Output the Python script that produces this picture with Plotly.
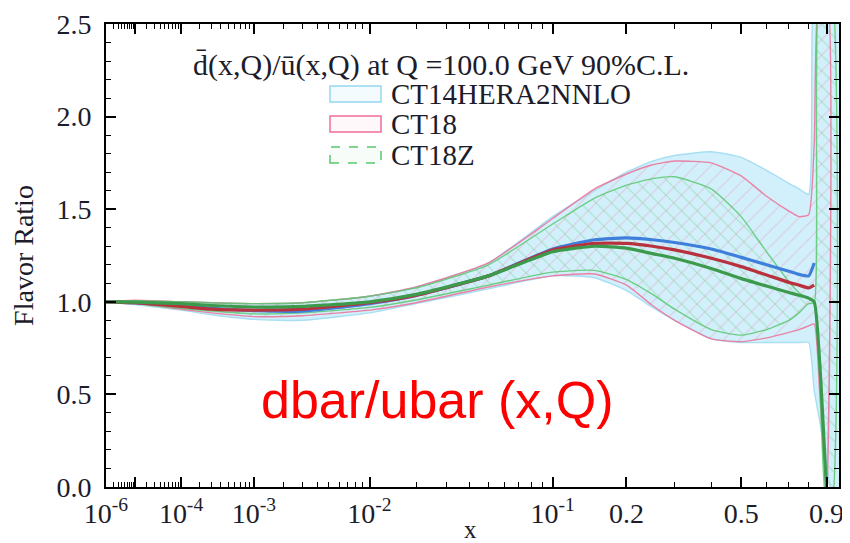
import plotly.graph_objects as go

# ---------------- data ----------------
X = [1e-6, 1e-5, 1e-4, 3e-4, 1e-3, 3e-3, 1e-2, 2e-2, 0.05, 0.1, 0.15, 0.2, 0.25,
     0.3, 0.4, 0.5, 0.6, 0.7, 0.75, 0.8, 0.83, 0.86, 0.9, 0.93, 0.97]

CT14_CENTRAL = [1.0, 0.995, 0.98, 0.965, 0.952, 0.95, 0.99, 1.035, 1.14, 1.285, 1.335, 1.345, 1.335,
                1.32, 1.285, 1.24, 1.2, 1.165, 1.148, 1.14, 1.21, None, None, None, None]
CT14_UPPER = [1.0, 1.005, 1.0, 0.995, 0.99, 0.995, 1.03, 1.08, 1.21, 1.46, 1.6, 1.7, 1.76,
              1.79, 1.81, 1.78, 1.71, 1.64, 1.61, 1.58, 2.7, 2.7, 2.7, 2.7, 2.7]
CT14_LOWER = [1.0, 0.985, 0.955, 0.93, 0.905, 0.9, 0.94, 0.99, 1.07, 1.14, 1.13, 1.06, 0.97,
              0.9, 0.8, 0.78, 0.78, 0.78, 0.78, 0.78, 0.52, 0.36, 0.13, -0.05, -0.1]

CT18_CENTRAL = [1.0, 0.995, 0.975, 0.96, 0.955, 0.96, 0.995, 1.035, 1.14, 1.28, 1.315, 1.315, 1.3,
                1.28, 1.235, 1.19, 1.145, 1.105, 1.09, 1.075, 1.09, None, None, None, None]
CT18_UPPER = [1.0, 1.008, 1.0, 0.995, 0.99, 0.995, 1.03, 1.08, 1.21, 1.45, 1.61, 1.69, 1.74,
              1.76, 1.75, 1.68, 1.57, 1.49, 1.46, 1.47, 1.85, 2.7, 2.7, None, None]
CT18_LOWER = [1.0, 0.99, 0.96, 0.94, 0.92, 0.925, 0.955, 0.995, 1.08, 1.14, 1.15, 1.09, 0.98,
              0.9, 0.8, 0.785, 0.805, 0.835, 0.85, 0.87, 0.88, 0.52, -0.05, None, None]

CT18Z_CENTRAL = [1.0, 0.998, 0.99, 0.98, 0.972, 0.975, 1.0, 1.04, 1.14, 1.27, 1.3, 1.29, 1.26,
                 1.235, 1.18, 1.125, 1.085, 1.05, 1.035, 1.02, 1.0, 0.68, -0.02, None, None]
CT18Z_UPPER = [1.0, 1.006, 1.0, 0.995, 0.99, 0.995, 1.03, 1.075, 1.2, 1.42, 1.56, 1.63, 1.665,
               1.675, 1.61, 1.46, 1.27, 1.11, 1.05, 1.015, 1.0, 2.7, 2.7, 2.7, None]
CT18Z_LOWER = [1.0, 0.99, 0.965, 0.95, 0.935, 0.94, 0.97, 1.01, 1.09, 1.16, 1.17, 1.12, 1.04,
               0.96, 0.85, 0.82, 0.85, 0.9, 0.94, 0.99, 0.99, 0.6, -0.1, -0.1, None]

X_TICKS = [1e-6, 1e-5, 1e-4, 1e-3, 1e-2, 1e-1, 0.2, 0.5, 0.9]
X_TICK_TEXT = ["10<sup>-6</sup>", "", "10<sup>-4</sup>", "10<sup>-3</sup>", "10<sup>-2</sup>",
               "10<sup>-1</sup>", "0.2", "0.5", "0.9"]
X_MINOR = ([m * 10.0 ** e for e in range(-6, -1) for m in range(2, 10)]
           + [0.3, 0.4, 0.6, 0.7, 0.8])
X_MIN, X_MAX = 1e-6, 0.975
Y_TICKS = [0.0, 0.5, 1.0, 1.5, 2.0, 2.5]

POW = 0.2  # the axis is linear in x**0.2


def u(x):
    return x ** POW


SERIF = "Liberation Serif, Times New Roman, serif"
INK = "#1c1c2a"

fig = go.Figure()


def band(up, lo, line_color, line_dash, fillcolor, pattern=None):
    bx, by = [], []
    for x, a in zip(X, up):
        if a is not None:
            bx.append(u(x)); by.append(a)
    for x, b in reversed(list(zip(X, lo))):
        if b is not None:
            bx.append(u(x)); by.append(b)
    kw = {}
    if pattern is not None:
        kw["fillpattern"] = pattern
    fig.add_trace(go.Scatter(
        x=bx, y=by, mode="lines", fill="toself", fillcolor=fillcolor,
        line=dict(color=line_color, width=1.4, dash=line_dash, shape="spline", smoothing=0.5),
        hoverinfo="skip", showlegend=False, **kw))


def central(vals, color, width=3.2):
    cx = [u(x) for x, v in zip(X, vals) if v is not None]
    cy = [v for v in vals if v is not None]
    fig.add_trace(go.Scatter(
        x=cx, y=cy, mode="lines",
        line=dict(color=color, width=width, shape="spline", smoothing=0.5),
        hoverinfo="skip", showlegend=False))


band(CT14_UPPER, CT14_LOWER, "rgba(160,220,242,0.9)", "solid", "rgba(180,230,248,0.6)")
band(CT18_UPPER, CT18_LOWER, "rgba(238,110,150,0.85)", "solid", "rgba(0,0,0,0)",
     dict(shape="/", fgcolor="rgba(238,130,165,0.35)", bgcolor="rgba(0,0,0,0)",
          size=11, solidity=0.1, fillmode="replace"))
band(CT18Z_UPPER, CT18Z_LOWER, "rgba(90,200,110,0.85)", "solid", "rgba(0,0,0,0)",
     dict(shape="\\", fgcolor="rgba(100,200,120,0.4)", bgcolor="rgba(0,0,0,0)",
          size=11, solidity=0.1, fillmode="replace"))

central(CT14_CENTRAL, "#3f7fdc")
central(CT18_CENTRAL, "#b8323e")
central(CT18Z_CENTRAL, "#3c9a4c")

fig.update_xaxes(
    range=[u(X_MIN), u(X_MAX)], showgrid=False, zeroline=False, automargin=False,
    showline=True, linecolor="black", linewidth=2, mirror="ticks",
    ticks="inside", ticklen=10, tickwidth=1.6, tickcolor="black",
    tickmode="array", tickvals=[u(v) for v in X_TICKS], ticktext=X_TICK_TEXT,
    minor=dict(tickmode="array", tickvals=[u(v) for v in X_MINOR], ticks="inside",
               ticklen=5, tickwidth=1.3, tickcolor="black"),
    tickfont=dict(family=SERIF, size=28, color=INK),
)
fig.update_yaxes(
    range=[0, 2.5], showgrid=False, zeroline=False, automargin=False,
    showline=True, linecolor="black", linewidth=2, mirror="ticks",
    ticks="inside", ticklen=10, tickwidth=1.6, tickcolor="black",
    tickmode="array", tickvals=Y_TICKS, ticktext=[f"{v:.1f}" for v in Y_TICKS],
    minor=dict(dtick=0.1, ticks="inside", ticklen=5, tickwidth=1.3, tickcolor="black"),
    tickfont=dict(family=SERIF, size=28, color=INK), ticklabelstandoff=7,
    title=dict(text="Flavor Ratio", font=dict(family=SERIF, size=28, color=INK), standoff=16),
)

# ----- layout: the page adds an 8px body margin, so the figure is shifted back by it -----
PAGE_OFF = 8
PLOT_L, PLOT_R, PLOT_T, PLOT_B = 106, 839, 24, 487   # plot frame in page pixels
W, H = PLOT_R - PLOT_L, PLOT_B - PLOT_T


def px(xp):
    return (xp - PLOT_L) / W


def py(yp):
    return (PLOT_B - yp) / H


annos = [
    dict(text="d\u0304(x,Q)/u\u0304(x,Q) at Q =100.0 GeV 90%C.L.", x=px(191), y=py(65),
         xanchor="left", yanchor="middle", font=dict(family=SERIF, size=30, color=INK)),
    dict(text="x", x=px(470), y=py(529), xanchor="center", yanchor="middle",
         font=dict(family=SERIF, size=25, color=INK)),
]
legend_items = [("CT14HERA2NNLO", "rgba(150,215,240,1)", "solid", "rgba(175,228,246,0.15)", 94),
                ("CT18", "rgba(238,110,150,1)", "solid", "rgba(238,120,160,0.05)", 124),
                ("CT18Z", "rgba(90,200,110,1)", "dash", "rgba(90,195,110,0.05)", 155)]
shapes = []
for name, lc, dash, fc, yc in legend_items:
    shapes.append(dict(type="rect", xref="paper", yref="paper",
                       x0=px(330), x1=px(381), y0=py(yc + 8), y1=py(yc - 8),
                       line=dict(color=lc, width=1.5, dash=dash), fillcolor=fc))
    annos.append(dict(text=name, x=px(389), y=py(yc), xanchor="left", yanchor="middle",
                      font=dict(family=SERIF, size=29, color=INK)))

annos.append(dict(text="dbar/ubar (x,Q)", x=px(437), y=py(400), xanchor="center", yanchor="middle",
                  font=dict(family="Liberation Sans, Arial, sans-serif", size=52, color="#ff0000")))

for a in annos:
    a.setdefault("xref", "paper")
    a.setdefault("yref", "paper")
    a["showarrow"] = False

fig.update_layout(
    width=850, height=543,
    margin=dict(l=PLOT_L - PAGE_OFF, r=850 - PLOT_R + PAGE_OFF,
                t=PLOT_T - PAGE_OFF, b=543 - PLOT_B + PAGE_OFF),
    plot_bgcolor="white", paper_bgcolor="white",
    annotations=annos, shapes=shapes, showlegend=False,
)

fig.write_html("out.html")
